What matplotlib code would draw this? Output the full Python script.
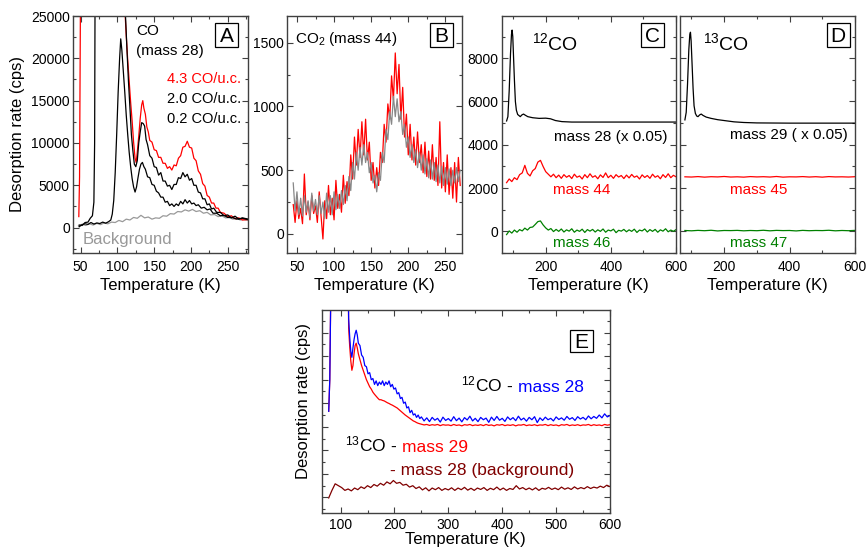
import numpy as np
import matplotlib
matplotlib.use("Agg")
import matplotlib.pyplot as plt
from matplotlib.ticker import MultipleLocator
from matplotlib.patches import Rectangle

plt.rcParams["font.family"] = ["Liberation Sans", "DejaVu Sans"]
plt.rcParams["mathtext.fontset"] = "custom"
plt.rcParams["mathtext.rm"] = "Liberation Sans"
plt.rcParams["mathtext.it"] = "Liberation Sans:italic"
plt.rcParams["mathtext.bf"] = "Liberation Sans:bold"

RED = "#ff0000"
GREEN = "#008000"
BLUE = "#0000ff"
BROWN = "#800000"

# ---- panel A : CO (mass 28) for three coverages + background ----
t_a_red = [47.5, 48.5, 50.5, 108, 110, 112, 114, 116, 118, 120, 122, 124, 125.5, 127, 129, 131, 133, 134.5,
           136, 138, 140, 142, 144, 147, 150, 153, 156, 159, 162, 165, 168, 171, 174, 177, 180, 183, 186,
           189, 192, 195, 198, 201, 204, 207, 210, 213, 216, 219, 222, 225, 228, 231, 234, 237, 240, 245,
           250, 255, 260, 265, 270, 278]
a_red = [1300, 6000, 40000, 40000, 26000, 22700, 19800, 17300, 14800, 12600, 10100, 8200, 7700, 8900,
         10800, 12900, 14500, 15000, 14100, 13400, 11900, 11300, 10300, 10100, 9200, 9100, 8300, 8300,
         7600, 7600, 7000, 7200, 6800, 7400, 7300, 8200, 8500, 9500, 9600, 10200, 9500, 9400, 8200, 7900,
         6700, 6300, 5200, 4900, 3800, 3600, 2900, 2900, 2300, 2300, 1800, 1700, 1300, 1400, 1050, 1150,
         900, 950]

t_a_mid = [48, 52, 56, 60, 63, 66, 68, 69, 70, 108, 111, 113, 115, 117, 119, 121, 123, 125, 127, 129,
           131, 133, 135, 137, 139, 141, 144, 147, 150, 153, 156, 159, 162, 165, 168, 171, 174, 177, 180,
           183, 186, 189, 192, 195, 198, 201, 204, 207, 210, 213, 216, 219, 222, 225, 228, 231, 235, 240,
           245, 250, 255, 260, 265, 270, 278]
a_mid = [300, 250, 600, 650, 1100, 1400, 3000, 10000, 40000, 40000, 25000, 21000, 17300, 14200, 11000,
         9100, 7500, 7200, 7900, 10000, 11300, 12400, 12300, 12000, 10400, 9800, 8500, 8200, 7200, 7100,
         6200, 6500, 5500, 5500, 4900, 5000, 4500, 5100, 5100, 5900, 5800, 6500, 6000, 6300, 5600, 5800,
         5000, 5000, 4200, 4100, 3400, 3400, 2700, 2800, 2200, 2300, 1800, 1800, 1400, 1500, 1150, 1350,
         1000, 1150, 1000]

t_a_low = [48, 52, 56, 60, 64, 68, 72, 76, 80, 84, 88, 91, 93, 95, 97, 99, 101, 103, 104.5, 106, 108,
           110, 112, 114, 116, 118, 120, 122, 124, 126, 128, 130, 132, 134, 136, 138, 141, 144, 147, 150,
           153, 156, 159, 162, 165, 168, 171, 174, 177, 180, 183, 186, 189, 192, 195, 198, 201, 204, 207,
           210, 214, 218, 222, 226, 230, 235, 240, 245, 250, 256, 262, 270, 278]
a_low = [100, 350, 450, 380, 600, 420, 550, 480, 650, 520, 700, 900, 1600, 3200, 6500, 11000, 16000,
         20000, 22300, 21000, 18500, 16000, 13300, 11000, 8900, 7200, 5800, 4800, 4200, 4800, 5900, 6900,
         7500, 7700, 7200, 6900, 6000, 5900, 5100, 5000, 4300, 4100, 3600, 3600, 3000, 3100, 2600, 2800,
         2500, 2800, 2600, 3100, 2800, 3300, 2900, 3200, 2800, 2900, 2600, 2700, 2300, 2400, 2100, 2200,
         1700, 1700, 1400, 1450, 1200, 1200, 1000, 1100, 950]

t_a_bg = [47, 52, 57, 62, 67, 72, 77, 82, 87, 92, 97, 102, 107, 112, 117, 122, 127, 132, 137, 142, 147,
          152, 157, 162, 167, 172, 177, 182, 187, 192, 197, 202, 207, 212, 217, 222, 227, 232, 237, 242,
          247, 252, 257, 262, 267, 272, 278]
a_bg = [200, 400, 250, 450, 300, 500, 350, 550, 450, 650, 600, 850, 700, 1000, 900, 1200, 1100, 1450,
        1150, 1250, 1000, 1150, 1100, 1400, 1350, 1650, 1600, 1900, 1850, 2100, 1950, 2150, 1900, 2000,
        1700, 1800, 1500, 1550, 1300, 1400, 1150, 1200, 1000, 1100, 900, 950, 850]

# ---- panel B : CO2 (mass 44), two runs ----
t_b = np.linspace(45, 270, 91)
b_red = [230, 90, 260, 120, 200, 80, 470, 150, 250, 110, 300, 160, 220, 90, 330, 140, -40, 260, 120,
         380, 150, 280, 110, 420, 200, 310, 170, 460, 240, 410, 300, 620, 430, 760, 540, 820, 600, 880,
         620, 900, 580, 720, 420, 560, 360, 520, 380, 640, 560, 860, 720, 1020, 900, 1240, 1050, 1420,
         1100, 1330, 900, 1150, 760, 940, 620, 860, 580, 760, 540, 800, 560, 700, 480, 720, 450, 650,
         430, 700, 420, 600, 380, 880, 360, 560, 330, 620, 310, 520, 280, 560, 250, 600, 380]
b_gray = [400, 180, 330, 150, 280, 140, 300, 170, 260, 130, 320, 180, 270, 150, 300, 160, 250, 120, 320,
          170, 300, 150, 330, 190, 310, 200, 340, 230, 380, 260, 450, 340, 560, 430, 640, 500, 680, 540,
          700, 560, 640, 480, 560, 400, 460, 330, 480, 420, 640, 560, 820, 740, 960, 860, 1080, 920,
          1060, 880, 960, 780, 860, 680, 760, 600, 700, 560, 660, 520, 640, 500, 620, 470, 590, 440, 580,
          430, 560, 410, 540, 400, 530, 380, 520, 390, 510, 380, 500, 400, 520, 410, 500]

# ---- panel C : 12CO dose ----
t_c_28 = [80, 84, 88, 92, 95, 97, 99, 101, 104, 107, 110, 114, 118, 122, 127, 132, 137, 145, 160, 180,
          200, 215, 230, 250, 280, 350, 450, 600]
c_28 = [5100, 5300, 6500, 8200, 9100, 9300, 9000, 8200, 7000, 6000, 5600, 5400, 5350, 5300, 5380, 5420,
        5370, 5300, 5250, 5220, 5230, 5200, 5120, 5070, 5050, 5050, 5050, 5050]
t_cd = np.linspace(80, 600, 66)
c_44 = [2250, 2420, 2300, 2480, 2390, 2620, 2700, 3050, 2680, 2560, 2800, 2900, 3200, 3280, 3000, 2760,
        2640, 2520, 2640, 2480, 2600, 2450, 2620, 2500, 2580, 2440, 2640, 2500, 2560, 2420, 2620, 2480,
        2660, 2500, 2570, 2430, 2610, 2490, 2700, 2480, 2590, 2450, 2620, 2510, 2580, 2440, 2600, 2470,
        2630, 2500, 2560, 2420, 2610, 2490, 2580, 2450, 2640, 2500, 2570, 2430, 2620, 2490, 2660, 2480,
        2590, 2520]
c_46 = [-150, 20, -80, 60, -40, 80, 20, 150, 60, 180, 200, 320, 450, 480, 300, 160, 60, 130, -10, 90, 0,
        110, -30, 70, 10, 120, -40, 60, 0, 100, -50, 80, 10, 90, -30, 70, 0, 110, -40, 60, 20, 100, -60,
        50, 10, 90, -20, 70, 0, 100, -50, 60, 20, 110, -30, 80, 0, 90, -40, 70, 10, 120, -20, 60, 0, 80]

# ---- panel D : 13CO dose ----
t_d_29 = [80, 84, 88, 92, 95, 97, 99, 102, 105, 108, 112, 116, 120, 125, 130, 135, 145, 160, 180, 200,
          230, 260, 300, 400, 600]
d_29 = [5150, 5500, 6800, 8400, 9100, 9200, 8800, 7700, 6600, 5800, 5450, 5330, 5300, 5380, 5420, 5360,
        5280, 5220, 5160, 5120, 5060, 5030, 5010, 5000, 5000]
t_d_flat = np.linspace(80, 600, 27)
d_45 = [2520, 2510, 2530, 2505, 2525, 2515, 2535, 2510, 2520, 2505, 2530, 2515, 2525, 2510, 2535, 2505,
        2520, 2515, 2530, 2510, 2525, 2505, 2530, 2515, 2520, 2510, 2525]
d_47 = [40, 25, 45, 30, 50, 20, 40, 35, 45, 25, 40, 30, 50, 25, 45, 35, 40, 20, 45, 30, 40, 35, 50, 25,
        40, 30, 45]

# ---- panel E : isotope mixture (arbitrary units) ----
t_e = [78, 80, 82, 84, 113, 115, 117, 119, 121, 123, 125, 127, 129, 131, 133, 136, 139, 142, 145, 148,
       151, 154, 157, 160, 163, 166, 169, 172, 175, 178, 181, 184, 187, 190, 193, 196, 199, 202, 205,
       208, 211, 214, 217, 220, 223, 226, 229, 232, 235, 238, 241, 244, 247] + list(range(250, 601, 5))
e_12co = [3.66, 5.0, 9.0, 12, 12, 7.6, 6.8, 6.2, 5.95, 6.35, 6.7, 6.95, 7.1, 6.9, 6.55, 6.45, 6.05, 5.95,
          5.6, 5.55, 5.25, 5.3, 5.0, 5.05, 4.8, 4.95, 4.75, 4.9, 4.8, 4.95, 4.75, 4.9, 4.8, 4.95, 4.7,
          4.8, 4.6, 4.65, 4.4, 4.45, 4.2, 4.25, 4.0, 4.05, 3.8, 3.85, 3.6, 3.7, 3.5, 3.55, 3.4, 3.5, 3.35,
          3.42, 3.25, 3.38, 3.22, 3.4, 3.28, 3.36, 3.2, 3.41, 3.27,
          3.35, 3.24, 3.43, 3.26, 3.37, 3.21, 3.39, 3.29, 3.45, 3.25,
          3.36, 3.22, 3.4, 3.3, 3.37, 3.19, 3.41, 3.27, 3.44, 3.28,
          3.36, 3.23, 3.42, 3.3, 3.39, 3.26, 3.45, 3.29, 3.37, 3.24,
          3.4, 3.3, 3.43, 3.18, 3.38, 3.27, 3.41, 3.3, 3.36, 3.25,
          3.42, 3.31, 3.38, 3.28, 3.44, 3.32, 3.39, 3.27, 3.43, 3.33,
          3.4, 3.3, 3.46, 3.34, 3.44, 3.36, 3.5, 3.38, 3.55, 3.42, 3.48]
e_13co = [3.66, 5.0, 9.0, 12, 12, 7.2, 6.4, 5.8, 5.4, 5.6, 6.1, 6.45, 6.55, 6.35, 6.1, 5.85, 5.6, 5.4,
          5.2, 5.0, 4.85, 4.7, 4.6, 4.47, 4.38, 4.3, 4.22, 4.15, 4.15, 4.12, 4.1, 4.06, 4.02, 3.99, 3.95,
          3.92, 3.88, 3.84, 3.8, 3.74, 3.68, 3.62, 3.56, 3.5, 3.45, 3.4, 3.35, 3.3, 3.25, 3.22, 3.18, 3.15,
          3.13,
          3.11, 3.08, 3.1, 3.06, 3.09, 3.07, 3.1, 3.05, 3.09, 3.07,
          3.08, 3.05, 3.1, 3.06, 3.08, 3.04, 3.09, 3.07, 3.1, 3.05,
          3.08, 3.06, 3.09, 3.05, 3.1, 3.06, 3.08, 3.04, 3.09, 3.07,
          3.1, 3.05, 3.08, 3.06, 3.09, 3.04, 3.08, 3.07, 3.1, 3.05,
          3.08, 3.06, 3.09, 3.05, 3.08, 3.07, 3.1, 3.05, 3.09, 3.06,
          3.08, 3.04, 3.09, 3.07, 3.1, 3.05, 3.08, 3.06, 3.09, 3.05,
          3.08, 3.07, 3.1, 3.05, 3.09, 3.06, 3.08, 3.05, 3.1, 3.07, 3.09]
t_e_bg = np.linspace(78, 600, 88)
e_bg = [-0.02, 0.3, 0.58, 0.5, 0.42, 0.3, 0.36, 0.28, 0.4, 0.33,
        0.45, 0.38, 0.5, 0.42, 0.55, 0.48, 0.6, 0.52, 0.66, 0.58,
        0.72, 0.6, 0.64, 0.52, 0.56, 0.44, 0.5, 0.38, 0.45, 0.32,
        0.41, 0.28, 0.4, 0.33, 0.42, 0.3, 0.38, 0.32, 0.41, 0.3,
        0.4, 0.33, 0.43, 0.31, 0.39, 0.3, 0.4, 0.34, 0.42, 0.3,
        0.39, 0.33, 0.44, 0.32, 0.4, 0.3, 0.38, 0.34, 0.5, 0.36,
        0.42, 0.33, 0.4, 0.32, 0.41, 0.3, 0.39, 0.35, 0.43, 0.34,
        0.4, 0.33, 0.44, 0.35, 0.41, 0.34, 0.45, 0.36, 0.42, 0.37,
        0.46, 0.38, 0.44, 0.4, 0.48, 0.42, 0.52, 0.46]

FIG_W, FIG_H = 866, 549
fig = plt.figure(figsize=(FIG_W / 100, FIG_H / 100), dpi=100)


def px_axes(left, top, right, bottom):
    # axes placed by pixel edges (top-left origin)
    return fig.add_axes([left / FIG_W, 1 - bottom / FIG_H, (right - left) / FIG_W, (bottom - top) / FIG_H])


def style(ax, xmaj, xmin, ymaj, ymin, ylabels=True, xpad=5, labelpad=3):
    ax.xaxis.set_major_locator(MultipleLocator(xmaj))
    ax.xaxis.set_minor_locator(MultipleLocator(xmin))
    ax.yaxis.set_major_locator(MultipleLocator(ymaj))
    ax.yaxis.set_minor_locator(MultipleLocator(ymin))
    ax.tick_params(which="both", direction="in", top=True, right=True, labelsize=10,
                   color="#404040", pad=2.5, labelleft=ylabels)
    ax.tick_params(axis="x", which="both", pad=xpad)
    ax.tick_params(which="major", length=4, width=0.8)
    ax.tick_params(which="minor", length=2.2, width=0.8)
    for s in ax.spines.values():
        s.set_color("#404040")
        s.set_linewidth(1.0)
    ax.set_xlabel("Temperature (K)", fontsize=12, labelpad=labelpad)


def letter(ax, ch, cx, cy, w_px=23, h_px=24):
    pos = ax.get_position()
    w = w_px / (pos.width * FIG_W)
    h = h_px / (pos.height * FIG_H)
    ax.add_patch(Rectangle((cx - w / 2, cy - h / 2), w, h, transform=ax.transAxes,
                           fc="white", ec="black", lw=0.9, zorder=5))
    ax.text(cx, cy, ch, transform=ax.transAxes, ha="center", va="center_baseline",
            fontsize=15, zorder=6)


LW = 0.9

# A
axA = px_axes(73.3, 16, 248.3, 253)
axA.plot(t_a_bg, a_bg, color="#999999", lw=LW)
axA.plot(t_a_red, a_red, color=RED, lw=LW)
axA.plot(t_a_mid, a_mid, color="black", lw=LW)
axA.plot(t_a_low, a_low, color="black", lw=LW)
axA.set_xlim(40, 278)
axA.set_ylim(-3000, 25000)
style(axA, 50, 25, 5000, 2500)
axA.set_ylabel("Desorption rate (cps)", fontsize=12)
axA.text(125, 23200, "CO", fontsize=11, va="center")
axA.text(125, 20900, "(mass 28)", fontsize=11, va="center")
axA.text(268, 17500, "4.3 CO/u.c.", fontsize=10.5, color=RED, ha="right", va="center")
axA.text(268, 15150, "2.0 CO/u.c.", fontsize=10.5, ha="right", va="center")
axA.text(268, 12800, "0.2 CO/u.c.", fontsize=10.5, ha="right", va="center")
axA.text(52.5, -1400, "Background", fontsize=12, color="#999999", va="center")
letter(axA, "A", 0.877, 0.92)

# B
axB = px_axes(287.3, 16, 461.7, 253)
axB.plot(t_b, b_red, color=RED, lw=LW)
axB.plot(t_b, b_gray, color="#888888", lw=LW)
axB.set_xlim(37, 272)
axB.set_ylim(-150, 1710)
style(axB, 50, 25, 500, 250)
axB.text(47, 1530, "CO$_2$ (mass 44)", fontsize=11, va="center")
letter(axB, "B", 0.883, 0.92)

# C
axC = px_axes(501.7, 16, 676, 253)
axC.plot(t_c_28, c_28, color="black", lw=LW)
axC.plot(t_cd, c_44, color=RED, lw=LW)
axC.plot(t_cd, c_46, color=GREEN, lw=LW)
axC.set_xlim(65, 600)
axC.set_ylim(-1000, 9950)
style(axC, 200, 100, 2000, 1000)
axC.text(158, 8380, "$^{12}$CO", fontsize=14, va="baseline")
axC.text(573, 4370, "mass 28 (x 0.05)", fontsize=11, ha="right", va="center")
axC.text(222, 1900, "mass 44", fontsize=11, color=RED, va="center")
axC.text(222, -520, "mass 46", fontsize=11, color=GREEN, va="center")
letter(axC, "C", 0.868, 0.92)

# D
axD = px_axes(680, 16, 855, 253)
axD.plot(t_d_29, d_29, color="black", lw=LW)
axD.plot(t_d_flat, d_45, color=RED, lw=LW)
axD.plot(t_d_flat, d_47, color=GREEN, lw=LW)
axD.set_xlim(65, 600)
axD.set_ylim(-1000, 9950)
style(axD, 200, 100, 2000, 1000, ylabels=False)
axD.text(135, 8380, "$^{13}$CO", fontsize=14, va="baseline")
axD.text(218, 4450, "mass 29 ( x 0.05)", fontsize=11, va="center")
axD.text(218, 1900, "mass 45", fontsize=11, color=RED, va="center")
axD.text(218, -520, "mass 47", fontsize=11, color=GREEN, va="center")
letter(axD, "D", 0.903, 0.92)

# E
axE = px_axes(321.7, 310, 610, 513)
axE.plot(t_e_bg, e_bg, color=BROWN, lw=LW)
axE.plot(t_e, e_13co, color=RED, lw=LW)
axE.plot(t_e, e_12co, color=BLUE, lw=LW)
axE.set_xlim(65, 600)
axE.set_ylim(-0.66, 7.96)
style(axE, 100, 50, 1, 0.5, ylabels=False, xpad=3.5, labelpad=0)
axE.set_ylabel("Desorption rate (cps)", fontsize=12)
axE.yaxis.set_label_coords(-0.037, 0.55)
letter(axE, "E", 0.901, 0.848, 23, 22)


def two_tone(ax, x, y, first, second, c2, fs=12.5):
    t = ax.text(x, y, first, fontsize=fs, va="baseline")
    fig.canvas.draw()
    bb = t.get_window_extent()
    x2 = ax.transData.inverted().transform((bb.x1, 0))[0]
    ax.annotate(second, xy=(x2, y), xytext=(fs * 0.28, 0), textcoords="offset points",
                fontsize=fs, color=c2, va="baseline")


two_tone(axE, 324, 4.49, "$^{12}$CO -", "mass 28", BLUE)
two_tone(axE, 108, 1.95, "$^{13}$CO -", "mass 29", RED)
axE.text(191, 0.97, "- mass 28 (background)", fontsize=12.5, color=BROWN, va="baseline")

fig.savefig("out.png", dpi=100)
